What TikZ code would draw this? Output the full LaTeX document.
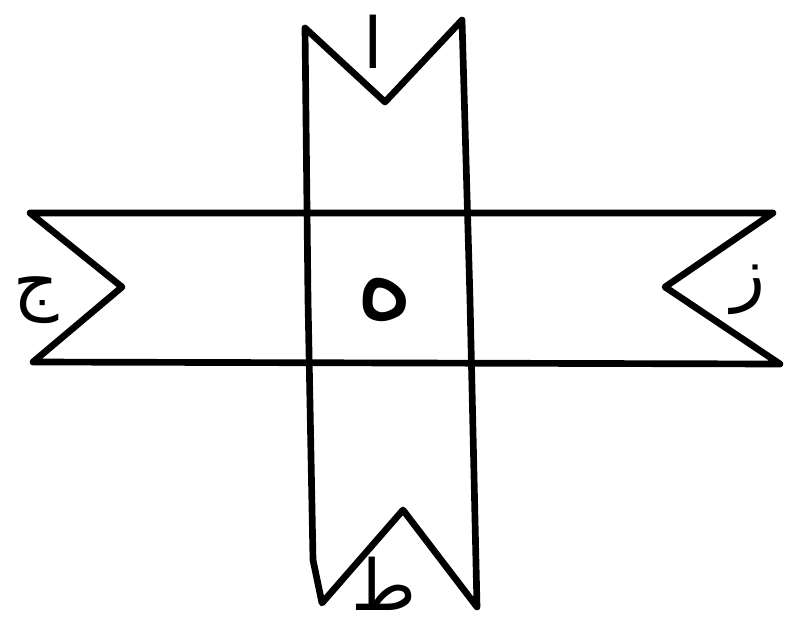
\documentclass[tikz,border=0pt]{standalone}
\usepackage{fontspec}
\usepackage{tikz}
\usetikzlibrary{calc,positioning}
\TeXXeTstate=1
\newfontfamily\arabicfont[Script=Arabic]{DejaVu Sans}
\tikzset{
  stripline/.style={black, line width=3.8pt, line join=round, line cap=round},
  letter/.style={inner sep=0pt, font=\arabicfont\fontsize{40}{40}\selectfont}
}

\begin{document}
\begin{tikzpicture}[x=0.02cm,y=-0.02cm]
    \useasboundingbox (0,0) rectangle (795,636);

    % vertical strip
    \draw[stripline] (305,28) -- (385,102) -- (462,20)
        -- (470,300) -- (477,607) -- (403,510) -- (322,603)
        -- (313,560) -- (308,300) -- cycle;

    % horizontal strip
    \draw[stripline] (30,213) -- (773,213) -- (665,287)
        -- (780,364) -- (33,362) -- (122,287) -- cycle;

    % labels
    \node[letter] (top) at (373,42) {\beginR ا\endR};
    \node[letter] (left) at (36,300) {\beginR ج\endR};
    \node[letter] (right) at (748,290) {\beginR ز\endR};
    \node[letter, scale=1.6] (mid) at (385,300) {\beginR ه\endR};
    \node[letter] (bottom) at (384,584) {\beginR ط\endR};
\end{tikzpicture}
\end{document}
